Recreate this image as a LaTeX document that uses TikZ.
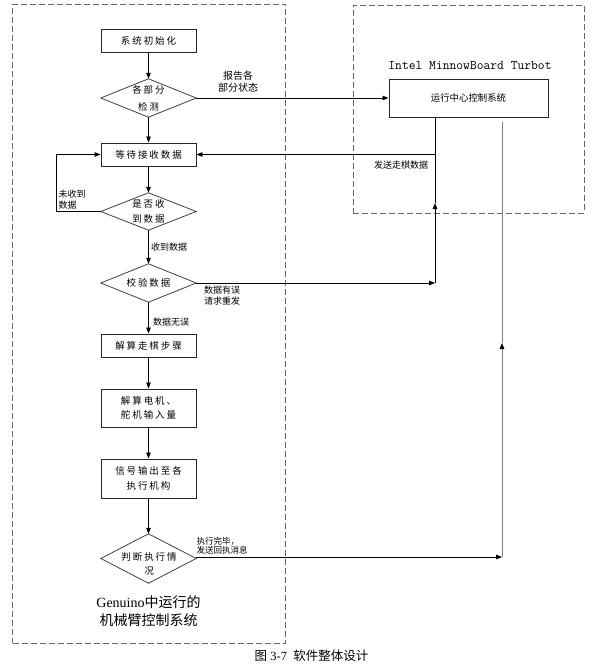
\documentclass[tikz,border=0pt]{standalone}
\usepackage{fontspec}
\setmainfont{Liberation Serif}
\newfontfamily\cjk{Noto Sans CJK SC}
\newfontfamily\cjkbox[LetterSpace=20]{Noto Sans CJK SC}
\usetikzlibrary{arrows.meta,calc}
\tikzset{
  box/.style={draw=black!85, line width=0.9pt, minimum width=95pt, minimum height=23pt,
    inner sep=0pt, align=center, font=\cjkbox\fontsize{9.5}{14.5}\selectfont},
  dia/.style={minimum width=95pt, minimum height=38pt, inner sep=0pt, align=center,
    font=\cjkbox\fontsize{9.5}{15}\selectfont},
  diaedge/.style={draw=black!75, line width=0.8pt},
  conn/.style={draw=black, line width=0.8pt},
  arr/.style={conn, -{Triangle[length=6pt,width=4.5pt,color=black]}},
  lbl/.style={inner sep=0pt, align=center, font=\cjk\fontsize{9}{11}\selectfont},
  container/.style={draw=black!60, line width=0.8pt, dash pattern=on 6pt off 3pt, inner sep=0pt}
}
\begin{document}
\begin{tikzpicture}[x=1pt,y=-1pt]
\useasboundingbox (0,0) rectangle (596,669);
% containers
\node[container, minimum width=272.5pt, minimum height=639pt] (leftc) at (148.75,323.5) {};
\node[container, minimum width=231pt, minimum height=208pt] (rightc) at (468.5,109) {};
% left flow
\node[box] (init) at (148.5,40.5) {系统初始化};
\node[dia, font=\cjkbox\fontsize{9.5}{17}\selectfont] (d1) at (148.5,98) {各部分\\检测};
\node[box] (wait) at (148.5,154.5) {等待接收数据};
\node[dia, minimum height=37pt] (d2) at (148.5,211.5) {是否收\\到数据};
\node[dia] (d3) at (148.5,283) {校验数据};
\node[box] (s1) at (148.5,345.5) {解算走棋步骤};
\node[box, minimum height=38pt, align=left] (s2) at (148.5,408) {解算电机、\\舵机输入量};
\node[box, minimum height=39pt] (s3) at (148.5,478.5) {信号输出至各\\执行机构};
\node[dia, minimum height=49pt] (d4) at (148.5,558.5) {};
\node[inner sep=0pt, align=center, font=\cjkbox\fontsize{9.5}{14}\selectfont] (d4t) at (149,564) {判断执行情\\况};
\foreach \n in {d1,d2,d3,d4}
  \draw[diaedge] (\n.north) -- (\n.east) -- (\n.south) -- (\n.west) -- cycle;
% right box
\node[draw=black!85, line width=0.9pt, minimum width=159pt, minimum height=38pt, inner sep=0pt,
  font=\cjk\fontsize{9.4}{11}\selectfont] (ctrl) at (468.5,98) {运行中心控制系统};
\node[inner sep=0pt, font=\ttfamily\fontsize{13.2}{15}\selectfont] (intel) at (470,66) {Intel MinnowBoard Turbot};
% titles
\node[inner sep=0pt, align=center, font=\fontsize{14}{18}\selectfont] (title) at (148.5,611)
  {Genuino{\cjk 中运行的}\\{\cjk 机械臂控制系统}};
\node[inner sep=0pt, font=\fontsize{12.5}{14}\selectfont] (cap) at (311.5,656) {{\cjk 图} 3-7\ \ {\cjk 软件整体设计}};
% coordinates
\coordinate (c1) at (435,283);
\coordinate (c2) at (435,203);
\coordinate (c3) at (502,557);
\coordinate (c4) at (502,343);
\coordinate (c5) at (502,122);
\coordinate (loopl) at (56,211.5);
% connectors
\draw[arr] (init) -- (d1);
\draw[arr] (d1) -- (wait);
\draw[arr] (wait) -- (d2);
\draw[arr] (d2) -- (d3);
\draw[arr] (d3) -- (s1);
\draw[arr] (s1) -- (s2);
\draw[arr] (s2) -- (s3);
\draw[arr] (s3) -- (d4);
\draw[arr] (d1.east) -- (d1.east -| ctrl.west);
\draw[arr] (d2.west) -- (loopl) -- (loopl |- wait.west) -- (wait.west);
\draw[arr] (d3.east) -- (c1);
\draw[arr] (c1) -- (c2);
\draw[conn] (c2) -- (c1 |- ctrl.south);
\draw[arr] (c1 |- ctrl.south) -- (c1 |- wait.east) -- (wait.east);
\draw[arr] (d4.east |- c3) -- (c3);
\draw[arr, draw=black!50] (c3) -- (c4);
\draw[conn, draw=black!50] (c4) -- (c5);
% labels
\node[lbl, font=\cjk\fontsize{10}{12}\selectfont] (l1) at (238,82) {报告各\\部分状态};
\node[lbl, align=left] (l2) at (72,200) {未收到\\数据};
\node[lbl] (l3) at (169,247) {收到数据};
\node[lbl, align=left] (l4) at (222,296) {数据有误\\请求重发};
\node[lbl] (l5) at (171,322) {数据无误};
\node[lbl] (l6) at (401,165) {发送走棋数据};
\node[lbl, align=left, font=\cjk\fontsize{8.5}{9}\selectfont] (l7) at (222,546) {执行完毕，\\发送回执消息};
\end{tikzpicture}
\end{document}
